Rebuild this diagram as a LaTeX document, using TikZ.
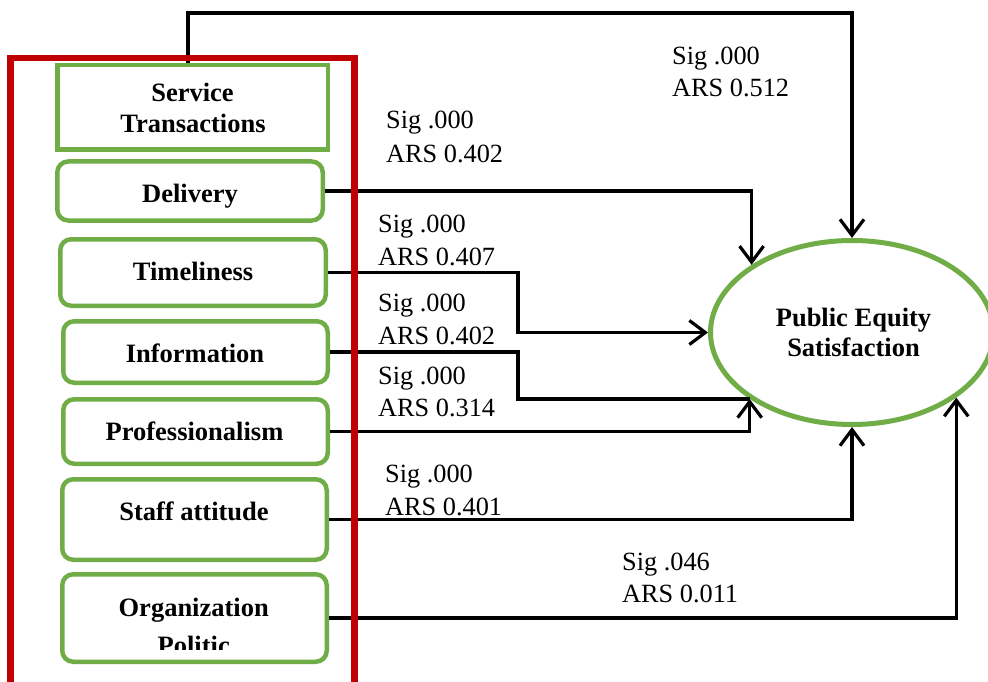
\documentclass[tikz,border=0pt]{standalone}
\usepackage{fontspec}
\setmainfont{Liberation Serif}
\usetikzlibrary{shapes.geometric,arrows.meta,calc}
\definecolor{gbox}{RGB}{112,173,71}
\definecolor{redframe}{RGB}{192,0,0}
\tikzset{
  varbox/.style={draw=gbox,line width=4.5pt,rounded corners=11pt,fill=white,inner sep=0pt},
  sqbox/.style={draw=gbox,line width=4.5pt,fill=white,inner sep=0pt},
  boxtext/.style={font=\fontsize{26.5}{31}\selectfont\bfseries,anchor=base,inner sep=0pt},
  stat/.style={font=\fontsize{26.3}{33}\selectfont,anchor=base west,inner sep=0pt},
  link/.style={line width=3.2pt,draw=black},
  arr/.style={link,-{Straight Barb[length=16pt,width=24pt]}},
}
\begin{document}
\begin{tikzpicture}[x=1pt,y=-1pt]
\clip (0,0) rectangle (988,682);
\fill[white] (0,0) rectangle (988,682);

% boxes
\node[sqbox, minimum width=270.5pt, minimum height=84.5pt] (st) at (192.5,107.5) {};
\node[varbox, minimum width=265.5pt, minimum height=59pt] (del) at (190,191) {};
\node[varbox, minimum width=265.5pt, minimum height=66.5pt] (tim) at (193,272.5) {};
\node[varbox, minimum width=264.5pt, minimum height=61.5pt] (inf) at (195.5,352) {};
\node[varbox, minimum width=264.5pt, minimum height=64.5pt] (pro) at (195.5,431.5) {};
\node[varbox, minimum width=264.5pt, minimum height=80.5pt] (sta) at (194.5,519.5) {};
\node[varbox, minimum width=264.5pt, minimum height=87.5pt] (org) at (194.5,618) {};

% box texts
\node[boxtext] (stt1) at (192.5,102) {Service};
\node[boxtext] (stt2) at (193,133) {Transactions};
\node[boxtext] (delt) at (190,202) {Delivery};
\node[boxtext] (timt) at (193,280) {Timeliness};
\node[boxtext] (inft) at (195,362) {Information};
\node[boxtext] (prot) at (194.5,440) {Professionalism};
\node[boxtext] (stat) at (194,520.5) {Staff attitude};
\node[boxtext] (orgt1) at (193.7,616) {Organization};
\begin{scope}
  \clip (60,560) rectangle (329,649);
  \node[boxtext] (orgt2) at (193.7,654.5) {Politic};
\end{scope}

% dependent variable
\node[ellipse, draw=gbox, line width=5pt, fill=white, inner sep=0pt,
      minimum width=283pt, minimum height=184pt] (pes) at (852,332.5) {};
\node[boxtext] (pest1) at (853.5,326) {Public Equity};
\node[boxtext] (pest2) at (853.5,356.5) {Satisfaction};

% helper coordinates
\coordinate (topc) at (0,13);
\coordinate (jx) at (518,0);

% connectors
\draw[arr] ([xshift=-4.5pt]st.north) -- ([xshift=-4.5pt]st.north |- topc) -| (pes.north);
\draw[arr] (del.east) -| (pes.146.8);
\draw[arr] (tim.east) -| (jx |- pes.west) -- (pes.west);
\draw[link] (inf.east) -| (jx |- pes.213.2) -- (pes.213.2);
\draw[arr] (pro.east) -| (pes.213.2);
\draw[arr] (sta.east) -| (pes.south);
\draw[arr] (org.east) -| (pes.-32.2);

% red frame
\draw[redframe, line width=6.5pt] (10.5,700) -- (10.5,58) -- (354.5,58) -- (354.5,700);

% statistics labels
\node[stat] (s1) at (672,65) {Sig .000};
\node[stat] (r1) at (672,97) {ARS 0.512};
\node[stat] (s2) at (386,129) {Sig .000};
\node[stat] (r2) at (386,163) {ARS 0.402};
\node[stat] (s3) at (378,232) {Sig .000};
\node[stat] (r3) at (378,265) {ARS 0.407};
\node[stat] (s4) at (378,311) {Sig .000};
\node[stat] (r4) at (378,344) {ARS 0.402};
\node[stat] (s5) at (378,384) {Sig .000};
\node[stat] (r5) at (378,416) {ARS 0.314};
\node[stat] (s6) at (385,482) {Sig .000};
\node[stat] (r6) at (385,515) {ARS 0.401};
\node[stat] (s7) at (622,570) {Sig .046};
\node[stat] (r7) at (622,602) {ARS 0.011};
\end{tikzpicture}
\end{document}
